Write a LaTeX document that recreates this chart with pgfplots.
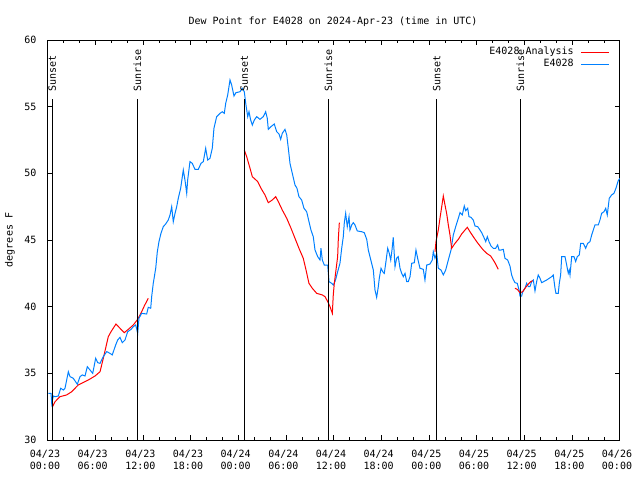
\documentclass[border=0pt]{standalone}
\usepackage{fontspec}
\setmainfont{DejaVu Sans Mono}
\setmonofont{DejaVu Sans Mono}
\usepackage{pgfplots}
\pgfplotsset{compat=1.18}
\definecolor{obsblue}{RGB}{0,128,255}
\begin{document}
\begin{tikzpicture}
\useasboundingbox (-36pt,-30pt) rectangle (444pt,330pt);
\begin{axis}[
  at={(0,0)}, anchor=south west,
  scale only axis, width=429pt, height=300pt,
  xmin=0, xmax=72, ymin=30, ymax=60,
  xtick={0,6,...,72},
  xticklabels={04/23\\00:00,04/23\\06:00,04/23\\12:00,04/23\\18:00,04/24\\00:00,04/24\\06:00,04/24\\12:00,04/24\\18:00,04/25\\00:00,04/25\\06:00,04/25\\12:00,04/25\\18:00,04/26\\00:00},
  minor x tick num=2,
  ytick={30,35,...,60},
  tick align=inside,
  major tick length=3.75pt, minor tick length=2.25pt,
  axis line style={line width=0.75pt},
  tick style={line width=0.75pt, black},
  /pgf/number format/assume math mode=true,
  tick label style={font=\fontsize{7.5}{9}\selectfont},
  xticklabel style={inner sep=0pt, anchor=north, yshift=-7.3pt, xshift=-2.25pt, align=center},
  yticklabel style={inner sep=0pt, anchor=east, xshift=-8.5pt},
  legend cell align=right,
  legend plot pos=right,
  legend image code/.code={\path (0pt,0pt); \draw[#1] (5.25pt,0pt) -- (26.25pt,0pt);},
  legend style={at={(rel axis cs:1,1)}, anchor=north east, xshift=-7.5pt, yshift=-5.5pt,
    draw=none, fill=none, inner sep=0pt, row sep=2pt,
    nodes={inner sep=0pt, text height=5.5pt, text depth=1.5pt},
    font=\fontsize{7.5}{9}\selectfont},
]
% red analysis segments
\addplot[red, line width=0.75pt] coordinates {
(0.54,32.45) (0.88,32.87) (1.51,33.25) (2.35,33.38) (2.98,33.62) (3.81,34.13)
(5.07,34.50) (5.92,34.80) (6.55,35.12) (6.96,36.13) (7.30,37.00) (7.59,37.75)
(7.93,38.12) (8.56,38.70) (9.06,38.38) (9.60,38.05) (10.11,38.30) (10.74,38.63)
(11.29,39.05) (11.79,39.62) (12.12,40.05) (12.62,40.63)
};
\addlegendentry{E4028 Analysis}
\addplot[obsblue, line width=0.75pt] coordinates {
(0.04,33.50) (0.38,33.50) (0.47,32.75) (0.67,33.30) (0.88,33.25) (1.30,33.30)
(1.60,33.88) (1.93,33.75) (2.14,33.88) (2.56,35.12) (2.77,34.75) (3.18,34.63)
(3.69,34.18) (4.03,34.75) (4.32,34.88) (4.66,34.80) (4.95,35.50) (5.29,35.25)
(5.63,35.00) (6.00,36.13) (6.26,35.80) (6.55,35.75) (6.96,36.25) (7.39,36.63)
(7.80,36.50) (8.09,36.38) (8.52,37.13) (8.77,37.50) (9.06,37.70) (9.35,37.30)
(9.69,37.50) (10.03,38.12) (10.45,38.30) (10.74,38.50) (11.04,38.63) (11.29,38.00)
(11.45,39.13) (11.79,39.50) (12.42,39.45) (12.62,39.95) (12.93,39.88) (13.05,40.75)
(13.25,41.75) (13.56,42.88) (13.76,44.12) (13.97,44.88) (14.22,45.50) (14.51,46.00)
(14.81,46.20) (15.14,46.50) (15.36,46.88) (15.57,47.50) (15.77,46.37) (15.99,47.00)
(16.20,47.50) (16.40,48.13) (16.70,48.88) (17.03,50.25) (17.24,49.50) (17.46,48.50)
(17.58,49.50) (17.87,50.88) (18.16,50.75) (18.50,50.30) (18.92,50.30) (19.26,50.75)
(19.55,50.88) (19.85,51.88) (20.10,51.00) (20.39,51.13) (20.68,51.88) (20.89,53.38)
(21.23,54.25) (21.65,54.50) (21.94,54.62) (22.19,54.50) (22.37,55.25) (22.62,55.88)
(22.91,57.00) (23.12,56.62) (23.41,55.80) (23.66,56.05) (24.17,56.12) (24.46,56.38)
(24.71,56.12) (24.89,55.25) (25.14,54.25) (25.30,54.62) (25.51,54.00) (25.72,53.62)
(25.97,54.00) (26.27,54.25) (26.68,54.05) (27.10,54.25) (27.40,54.62) (27.60,54.13)
(27.73,53.30) (28.07,53.50) (28.48,53.70) (28.79,53.12) (29.08,52.95) (29.29,52.55)
(29.49,53.00) (29.83,53.30) (30.05,52.88) (30.25,51.88) (30.46,50.75) (30.75,50.00)
(31.09,49.13) (31.34,48.88) (31.59,48.25) (31.93,48.00) (32.22,47.38) (32.56,47.12)
(32.85,46.38) (33.10,45.75) (33.39,45.25) (33.61,44.25) (33.95,43.75) (34.24,43.50)
(34.36,44.38) (34.53,43.50) (34.78,43.12) (35.21,43.12) (35.37,41.88) (35.71,41.75)
(35.91,41.62) (36.12,41.88) (36.25,42.13) (36.46,42.62) (36.75,43.25) (36.97,44.38)
(37.17,45.25) (37.30,46.30) (37.47,47.00) (37.67,46.00) (37.89,46.75) (38.01,45.75)
(38.23,46.13) (38.43,46.30) (38.64,46.13) (38.93,45.68) (39.49,45.62) (39.81,45.55)
(40.12,45.05) (40.32,44.25) (40.53,43.75) (40.74,43.25) (40.95,42.75) (41.16,41.25)
(41.37,40.70) (41.58,41.50) (41.70,42.13) (41.92,42.88) (42.13,42.62) (42.33,42.50)
(42.54,43.38) (42.76,44.38) (42.96,44.00) (43.14,43.50) (43.30,44.25) (43.46,45.20)
(43.68,43.00) (43.89,43.63) (44.09,43.75) (44.31,42.88) (44.52,42.50) (44.72,42.25)
(44.94,42.50) (45.15,41.88) (45.35,41.88) (45.57,42.25) (45.78,43.25) (46.11,43.30)
(46.32,44.25) (46.53,43.63) (46.82,42.88) (47.24,42.80) (47.45,42.00) (47.67,43.12)
(48.08,43.20) (48.37,43.50) (48.50,44.12) (48.71,43.63) (48.93,44.00) (49.13,42.88)
(49.47,42.75) (49.76,42.38) (50.06,42.75) (50.39,43.50) (50.73,44.25) (51.02,45.38)
(51.32,46.00) (51.65,46.63) (51.86,47.05) (52.15,46.88) (52.40,47.55) (52.58,47.20)
(52.83,47.38) (52.99,46.75) (53.24,46.70) (53.53,46.50) (53.75,46.05) (54.09,46.00)
(54.38,45.75) (54.59,45.55) (54.92,45.13) (55.10,44.88) (55.30,45.25) (55.51,44.88)
(55.76,44.55) (56.05,44.38) (56.35,44.38) (56.60,44.63) (56.77,44.25) (57.02,44.25)
(57.31,44.30) (57.52,43.63) (57.86,43.50) (58.15,43.05) (58.36,42.38) (58.56,42.05)
(58.78,41.80) (59.07,41.75) (59.32,41.20) (59.41,40.80) (59.62,40.80) (59.75,41.12)
(60.04,41.38) (60.25,41.75) (60.46,41.50) (60.67,41.50) (60.88,41.88) (61.09,42.00)
(61.30,41.18) (61.51,41.88) (61.71,42.38) (61.93,42.13) (62.14,41.80) (62.77,42.00)
(63.40,42.25) (63.60,42.38) (63.82,41.38) (63.94,41.00) (64.23,41.00) (64.36,41.75)
(64.53,42.38) (64.66,43.75) (65.08,43.75) (65.29,43.12) (65.49,42.50) (65.62,42.75)
(65.71,42.38) (65.92,43.75) (66.21,43.75) (66.42,43.38) (66.62,43.75) (66.88,43.88)
(67.05,44.75) (67.38,44.75) (67.68,44.38) (67.93,44.75) (68.22,44.88) (68.44,45.38)
(68.64,45.75) (68.85,46.13) (69.27,46.13) (69.48,46.50) (69.69,47.00) (69.98,47.12)
(70.20,47.38) (70.40,46.88) (70.65,48.13) (70.95,48.38) (71.24,48.50) (71.49,48.88)
(71.78,49.45) (72.00,49.63)
};
\addlegendentry{E4028}
\addplot[red, line width=0.75pt, forget plot] coordinates {
(24.71,51.75) (25.01,51.25) (25.43,50.38) (25.72,49.75) (26.40,49.38) (26.81,48.88)
(27.31,48.38) (27.73,47.80) (28.23,48.00) (28.66,48.25) (28.99,47.88) (29.49,47.25)
(30.05,46.63) (30.59,45.88) (31.09,45.13) (31.59,44.38) (32.13,43.63) (32.43,42.88)
(32.85,41.75) (33.27,41.38) (33.82,41.00) (34.53,40.88) (34.87,40.75) (35.21,40.38)
(35.50,40.00) (35.79,39.50) (35.91,40.88) (36.04,41.75) (36.25,42.75) (36.46,43.75)
(36.54,45.00) (36.67,46.30)
};
\addplot[red, line width=0.75pt, forget plot] coordinates {
(48.71,44.12) (48.84,44.88) (49.13,45.75) (49.34,46.63) (49.56,47.50) (49.76,48.30)
(49.97,47.63) (50.18,47.00) (50.39,46.13) (50.60,45.38) (50.81,44.38) (51.23,44.75)
(51.65,45.05) (52.07,45.45) (52.49,45.75) (52.78,45.95) (53.12,45.62) (53.53,45.25)
(53.96,44.88) (54.38,44.55) (54.79,44.25) (55.22,44.00) (55.72,43.80) (56.05,43.50)
(56.35,43.20) (56.68,42.80)
};
\addplot[red, line width=0.75pt, forget plot] coordinates {
(58.78,41.38) (59.07,41.30) (59.41,41.05) (59.75,41.12) (60.04,41.38) (60.46,41.70)
(60.76,41.88) (61.01,41.95)
};
% sunrise / sunset markers
\addplot[black, line width=0.75pt, forget plot] coordinates {(0.54,30) (0.54,55.55)};
\addplot[black, line width=0.75pt, forget plot] coordinates {(11.24,30) (11.24,55.55)};
\addplot[black, line width=0.75pt, forget plot] coordinates {(24.71,30) (24.71,55.55)};
\addplot[black, line width=0.75pt, forget plot] coordinates {(35.29,30) (35.29,55.55)};
\addplot[black, line width=0.75pt, forget plot] coordinates {(48.92,30) (48.92,55.55)};
\addplot[black, line width=0.75pt, forget plot] coordinates {(59.45,30) (59.45,55.55)};
\begin{scope}[every node/.style={rotate=90, anchor=west, inner sep=0pt, font=\fontsize{7.5}{9}\selectfont}]
\node at (axis cs:0.54,56.12) {Sunset};
\node at (axis cs:11.24,56.12) {Sunrise};
\node at (axis cs:24.71,56.12) {Sunset};
\node at (axis cs:35.29,56.12) {Sunrise};
\node at (axis cs:48.92,56.12) {Sunset};
\node at (axis cs:59.45,56.12) {Sunrise};
\end{scope}
\end{axis}
\node[anchor=base, inner sep=0pt, font=\fontsize{7.5}{9}\selectfont] at (213.75pt,311.8pt) {Dew Point for E4028 on 2024-Apr-23 (time in UTC)};
\node[rotate=90, inner sep=0pt, font=\fontsize{7.5}{9}\selectfont] at (-28.5pt,150pt) {degrees F};
\end{tikzpicture}
\end{document}
